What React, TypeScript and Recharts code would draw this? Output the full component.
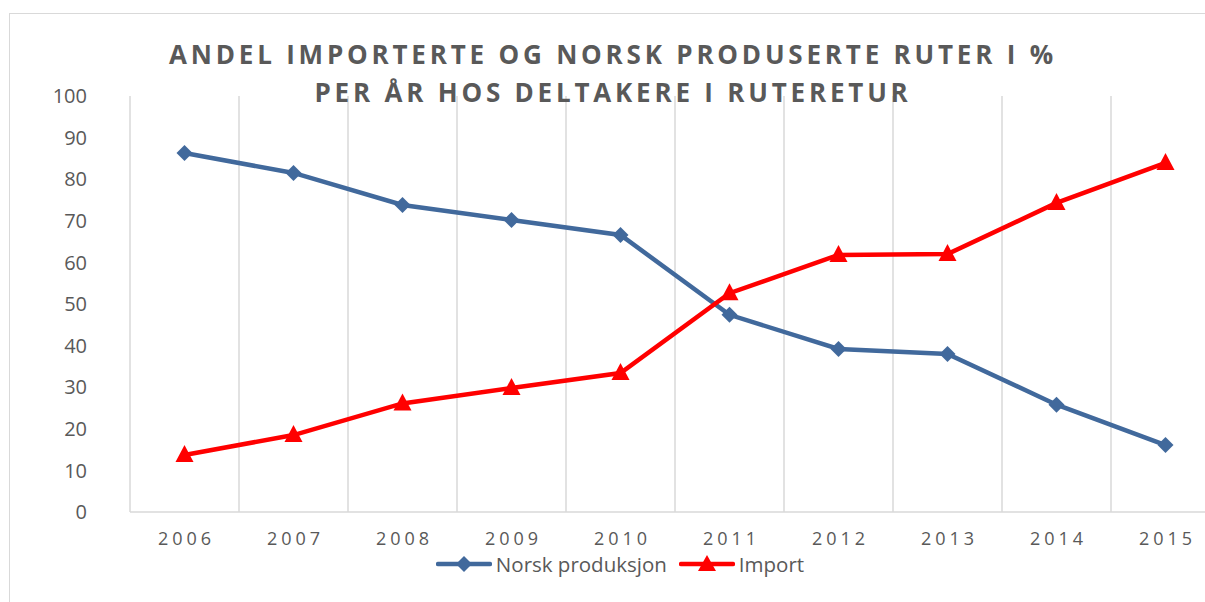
import { LineChart, Line, XAxis, YAxis, CartesianGrid } from "recharts";

// andel per år (%)
const years = ["2006", "2007", "2008", "2009", "2010", "2011", "2012", "2013", "2014", "2015"];
const norskProduksjon = [86.3, 81.5, 73.8, 70.2, 66.6, 47.4, 39.2, 38.0, 25.8, 16.1];
const importAndel = [13.7, 18.5, 26.1, 29.8, 33.4, 52.6, 61.8, 62.0, 74.3, 83.9];
const yTicks = [0, 10, 20, 30, 40, 50, 60, 70, 80, 90, 100];
const seriesNames = ["Norsk produksjon", "Import"];

const BLUE = "#41699c";
const RED = "#ff0000";
const TEXT = "#595959";
const GRID = "#d9d9d9";
const FONT = "'Open Sans', 'Noto Sans', sans-serif";

const data = years.map((year, i) => ({
  year,
  norsk: norskProduksjon[i],
  imp: importAndel[i],
}));

const Diamond = (props: any) => {
  const { cx, cy, index } = props;
  return (
    <polygon
      key={"d" + index}
      points={`${cx},${cy - 8} ${cx + 8},${cy} ${cx},${cy + 8} ${cx - 8},${cy}`}
      fill={BLUE}
    />
  );
};

const Triangle = (props: any) => {
  const { cx, cy, index } = props;
  return (
    <polygon
      key={"t" + index}
      points={`${cx},${cy - 10} ${cx + 9},${cy + 7} ${cx - 9},${cy + 7}`}
      fill={RED}
    />
  );
};

// legend drawn outside the chart so it doesn't eat plot space
const LegendRow = () => (
  <div
    style={{
      position: "absolute",
      left: 0,
      top: 550,
      width: 1240,
      display: "flex",
      justifyContent: "center",
      alignItems: "center",
      fontFamily: FONT,
      fontSize: 20.5,
      color: TEXT,
    }}
  >
    {seriesNames.map((name, i) => {
      const color = i === 0 ? BLUE : RED;
      return (
        <div key={name} style={{ display: "flex", alignItems: "center", marginRight: i === 0 ? 12 : 0 }}>
          <svg width={56} height={20} style={{ marginRight: 4 }}>
            <line x1={2} y1={10} x2={54} y2={10} stroke={color} strokeWidth={4.5} strokeLinecap="round" />
            {i === 0 ? (
              <polygon points="28,2 36,10 28,18 20,10" fill={color} />
            ) : (
              <polygon points="28,1 37,17 19,17" fill={color} />
            )}
          </svg>
          <span>{name}</span>
        </div>
      );
    })}
  </div>
);

export default function App() {
  return (
    <div style={{ position: "absolute", left: 0, top: 0, width: 1205, height: 602, overflow: "hidden", background: "#fff" }}>
      <div style={{ position: "absolute", left: 9, top: 13, width: 1400, height: 800, borderLeft: `1px solid ${GRID}`, borderTop: `1px solid ${GRID}` }} />

      <div style={{ position: "absolute", left: 0, top: 0 }}>
        <LineChart width={1240} height={602} data={data} margin={{ top: 96, right: 20, left: 0, bottom: 50 }}>
          <CartesianGrid
            horizontal={false}
            stroke={GRID}
            strokeWidth={1.5}
            verticalCoordinatesGenerator={({ offset }: any) =>
              years.map((_, i) => offset.left + (i * offset.width) / years.length).concat([offset.left + offset.width])
            }
          />
          <XAxis
            dataKey="year"
            scale="band"
            axisLine={{ stroke: GRID, strokeWidth: 1.5 }}
            tickLine={false}
            tickSize={0}
            tickMargin={20}
            height={40}
            tick={{ fill: TEXT, fontSize: 18, fontFamily: FONT, letterSpacing: 4, dx: 2 }}
          />
          <YAxis
            domain={[0, 100]}
            ticks={yTicks}
            interval={0}
            width={130}
            axisLine={false}
            tickLine={false}
            tickSize={0}
            tickMargin={43}
            tick={{ fill: TEXT, fontSize: 20, fontFamily: FONT }}
          />
          <Line
            type="linear"
            dataKey="norsk"
            name={seriesNames[0]}
            stroke={BLUE}
            strokeWidth={4.5}
            dot={Diamond}
            activeDot={false}
            isAnimationActive={false}
          />
          <Line
            type="linear"
            dataKey="imp"
            name={seriesNames[1]}
            stroke={RED}
            strokeWidth={4.5}
            dot={Triangle}
            activeDot={false}
            isAnimationActive={false}
          />
        </LineChart>
      </div>

      <LegendRow />

      <div
        style={{
          position: "absolute",
          left: 0,
          top: 35,
          width: 1226,
          textAlign: "center",
          fontFamily: FONT,
          fontWeight: 700,
          fontSize: 26,
          letterSpacing: 3.8,
          lineHeight: "38px",
          color: TEXT,
        }}
      >
        ANDEL IMPORTERTE OG NORSK PRODUSERTE RUTER I %
        <br />
        PER ÅR HOS DELTAKERE I RUTERETUR
      </div>
    </div>
  );
}
